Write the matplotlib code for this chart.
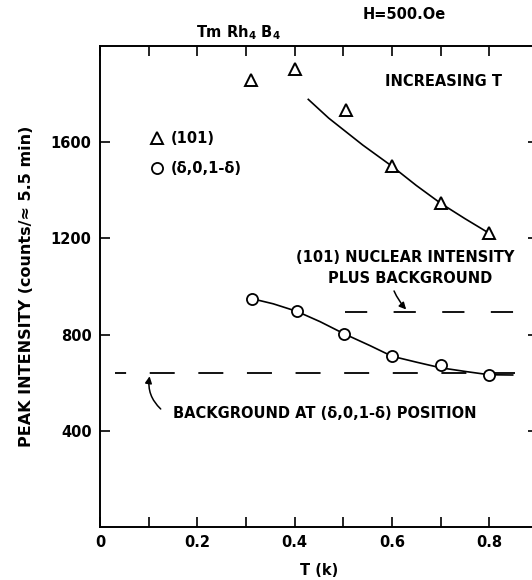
import matplotlib
matplotlib.use("Agg")
import matplotlib.pyplot as plt

plt.rcParams['font.family'] = ['DejaVu Sans']
plt.rcParams['font.weight'] = 'bold'
plt.rcParams['axes.labelweight'] = 'bold'
plt.rcParams['lines.scale_dashes'] = False

# measured points
temp_101 = [0.31, 0.40, 0.505, 0.60, 0.70, 0.80]
counts_101 = [1858, 1905, 1733, 1503, 1346, 1221]

temp_d = [0.313, 0.404, 0.502, 0.60, 0.70, 0.80]
counts_d = [949, 897, 803, 710, 672, 633]

# hand-drawn guide lines
guide_101_t = [0.428, 0.47, 0.54, 0.60, 0.65, 0.70, 0.75, 0.80]
guide_101_y = [1778, 1700, 1588, 1500, 1420, 1346, 1282, 1221]
guide_d_t = [0.313, 0.356, 0.404, 0.452, 0.502, 0.555, 0.60, 0.651, 0.70, 0.753, 0.80, 0.848]
guide_d_y = [949, 928, 897, 854, 803, 754, 710, 685, 662, 646, 633, 632]

background = 640
nuclear = 893

x_ticks = [0, 0.1, 0.2, 0.3, 0.4, 0.5, 0.6, 0.7, 0.8, 0.9]
x_labels = ["0", "", "0.2", "", "0.4", "", "0.6", "", "0.8", ""]
y_ticks = [400, 800, 1200, 1600]

fig = plt.figure(figsize=(5.32, 5.80), dpi=100)
ax = fig.add_axes([100 / 532, 53 / 580, 438 / 532, 481 / 580])
ax.set_xlim(0, 0.9)
ax.set_ylim(0, 2000)

for s in ax.spines.values():
    s.set_linewidth(1.4)

ax.set_xticks(x_ticks)
ax.set_xticklabels(x_labels)
ax.set_yticks(y_ticks)
ax.tick_params(axis='both', direction='in', length=7, width=1.2, labelsize=10.5,
               top=True, right=True)
ax.tick_params(axis='x', pad=6)
ax.tick_params(axis='y', pad=6)

# dashed reference levels
ax.plot([0.03, 0.9], [background, background], color='black', lw=1.3,
        linestyle=(10, (18, 17)), clip_on=False)
ax.plot([0.503, 0.9], [nuclear, nuclear], color='black', lw=1.3,
        linestyle=(0, (16, 19)), clip_on=False)

# guide curves
ax.plot(guide_101_t, guide_101_y, color='black', lw=1.2)
ax.plot(guide_d_t, guide_d_y, color='black', lw=1.2)

# data
ax.plot(temp_101, counts_101, linestyle='none', marker='^', ms=8.5, mfc='white',
        mec='black', mew=1.4, clip_on=False)
ax.plot(temp_d, counts_d, linestyle='none', marker='o', ms=8, mfc='white',
        mec='black', mew=1.3, zorder=5)

# legend by hand
ax.plot([0.117], [1617], marker='^', ms=8.5, mfc='white', mec='black', mew=1.4)
ax.plot([0.117], [1492], marker='o', ms=8, mfc='white', mec='black', mew=1.3)
ax.text(0.145, 1617, "(101)", fontsize=10.5, va='center')
ax.text(0.145, 1492, "(δ,0,1-δ)", fontsize=10.5, va='center')

ax.text(0.705, 1854, "INCREASING T", fontsize=10.5, ha='center', va='center')
ax.text(0.627, 1121, "(101) NUCLEAR INTENSITY", fontsize=10.5, ha='center', va='center')
ax.text(0.637, 1033, "PLUS BACKGROUND", fontsize=10.5, ha='center', va='center')
ax.annotate("", xy=(0.633, 896), xytext=(0.602, 992),
            arrowprops=dict(arrowstyle='-|>', color='black', lw=1.1,
                            connectionstyle='arc3,rad=0.1', mutation_scale=10))
ax.text(0.150, 471, "BACKGROUND AT (δ,0,1-δ) POSITION", fontsize=10.5, va='center')
ax.annotate("", xy=(0.103, 638), xytext=(0.129, 483),
            arrowprops=dict(arrowstyle='-|>', color='black', lw=1.1,
                            connectionstyle='arc3,rad=-0.3', mutation_scale=10))

ax.text(0.2836, 2054, r"Tm Rh$_{\mathbf{4}}$ B$_{\mathbf{4}}$", fontsize=10.5,
        ha='center', va='center', clip_on=False)
ax.text(0.625, 2129, "H=500.Oe", fontsize=10.5, ha='center', va='center', clip_on=False)

ax.set_xlabel("T (k)", fontsize=10.5, labelpad=9)
ax.set_ylabel("PEAK INTENSITY (counts/≈ 5.5 min)", fontsize=11.5, labelpad=12)

fig.savefig("out.png", dpi=100)
